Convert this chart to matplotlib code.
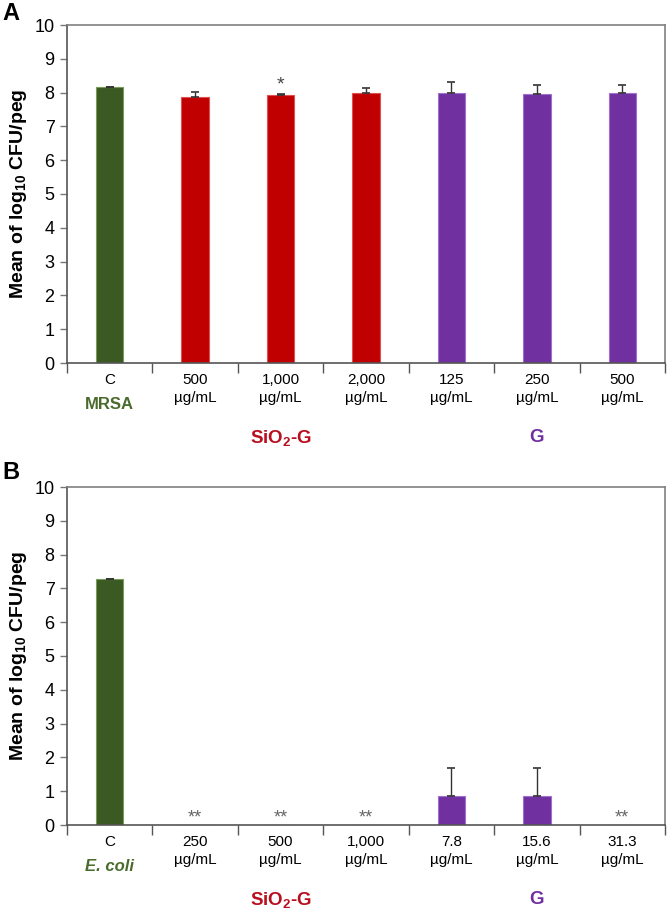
import matplotlib
matplotlib.use("Agg")
import matplotlib.pyplot as plt
import numpy as np
from matplotlib.ticker import FixedLocator

plt.rcParams['font.family'] = ['Liberation Sans', 'DejaVu Sans']
plt.rcParams['mathtext.fontset'] = 'custom'
plt.rcParams['mathtext.rm'] = 'Liberation Sans'
plt.rcParams['mathtext.bf'] = 'Liberation Sans:bold'
plt.rcParams['mathtext.it'] = 'Liberation Sans:italic'

# ---- data ----
labels_a = ["C", "500\nµg/mL", "1,000\nµg/mL", "2,000\nµg/mL", "125\nµg/mL", "250\nµg/mL", "500\nµg/mL"]
means_a = [8.16, 7.86, 7.92, 8.00, 8.00, 7.97, 8.00]
errs_a = [0.02, 0.16, 0.04, 0.15, 0.30, 0.26, 0.23]
stars_a = ["", "", "*", "", "", "", ""]

labels_b = ["C", "250\nµg/mL", "500\nµg/mL", "1,000\nµg/mL", "7.8\nµg/mL", "15.6\nµg/mL", "31.3\nµg/mL"]
means_b = [7.27, 0.0, 0.0, 0.0, 0.85, 0.85, 0.0]
errs_b = [0.02, 0.0, 0.0, 0.0, 0.85, 0.85, 0.0]
stars_b = ["", "**", "**", "**", "", "", "**"]

groups = ["control", "SiO2-G", "SiO2-G", "SiO2-G", "G", "G", "G"]

GREEN = "#3b5a23"
RED = "#c00000"
PURPLE = "#7030a0"
EDGE = {"control": "#7a9a5a", "SiO2-G": "#e05050", "G": "#a070d0"}
FILL = {"control": GREEN, "SiO2-G": RED, "G": PURPLE}

fig = plt.figure(figsize=(6.67, 9.14), dpi=100)

def panel(rect, labels, means, errs, stars, organism, org_italic, letter, letter_y):
    ax = fig.add_axes(rect)
    x = np.arange(len(labels))
    ax.bar(x, means, width=0.32, color=[FILL[g] for g in groups],
           edgecolor=[EDGE[g] for g in groups], linewidth=0.8, zorder=2)
    for xi, m, e in zip(x, means, errs):
        if e > 0:
            ax.errorbar(xi, m, yerr=[[0], [e]], fmt='none', ecolor='#333333',
                        elinewidth=1.0, capsize=3, capthick=1.2, zorder=3)
    for xi, m, e, s in zip(x, means, errs, stars):
        if s:
            if s == "*":
                ax.text(xi, m + e + 0.0, s, ha='center', va='bottom', fontsize=14, color='#444444')
            else:
                ax.text(xi, -0.05, s, ha='center', va='bottom', fontsize=13, color='#666666')
    ax.set_xlim(-0.5, len(labels) - 0.5)
    ax.set_ylim(0, 10)
    ax.set_yticks(np.arange(0, 11, 1))
    ax.set_xticks(x)
    ax.set_xticklabels(labels, fontsize=11, linespacing=1.35)
    ax.tick_params(axis='x', which='major', length=0, pad=7)
    ax.xaxis.set_minor_locator(FixedLocator(np.arange(-0.5, len(labels) - 0.4, 1.0)))
    ax.tick_params(axis='x', which='minor', length=7, width=1.0, color='#555555', direction='out')
    ax.tick_params(axis='y', length=5, width=1.0, color='#777777', labelsize=13, pad=4)
    for sp in ax.spines.values():
        sp.set_color('#808080')
        sp.set_linewidth(1.2)
    ax.spines['left'].set_color('#555555')
    ax.spines['bottom'].set_color('#555555')
    ax.set_ylabel(r"Mean of log$_{\mathbf{10}}$ CFU/peg", fontsize=14, fontweight='bold', labelpad=4)
    # organism label under C
    ax.annotate(organism, xy=(0, 0), xycoords=('data', 'axes fraction'),
                xytext=(0, -30), textcoords='offset points', ha='center', va='center',
                fontsize=12, fontweight='bold', style='italic' if org_italic else 'normal',
                color='#4a6b2e')
    ax.annotate(r"SiO$_\mathbf{2}$-G", xy=(2, 0), xycoords=('data', 'axes fraction'),
                xytext=(0, -54), textcoords='offset points', ha='center', va='center',
                fontsize=13.5, fontweight='bold', color='#b81020')
    ax.annotate("G", xy=(5, 0), xycoords=('data', 'axes fraction'),
                xytext=(0, -54), textcoords='offset points', ha='center', va='center',
                fontsize=13.5, fontweight='bold', color=PURPLE)
    fig.text(0.004, letter_y, letter, fontsize=17, fontweight='bold', va='center', ha='left')
    return ax

W, H = 667, 914
left = 67 / W
width = (665 - 67) / W
axA = panel([left, 1 - 363 / H, width, (363 - 25) / H], labels_a, means_a, errs_a, stars_a,
            "MRSA", False, "A", 1 - 14 / H)
axB = panel([left, 1 - 825 / H, width, (825 - 487) / H], labels_b, means_b, errs_b, stars_b,
            "E. coli", True, "B", 1 - 473 / H)

fig.savefig("out.png", dpi=100)
